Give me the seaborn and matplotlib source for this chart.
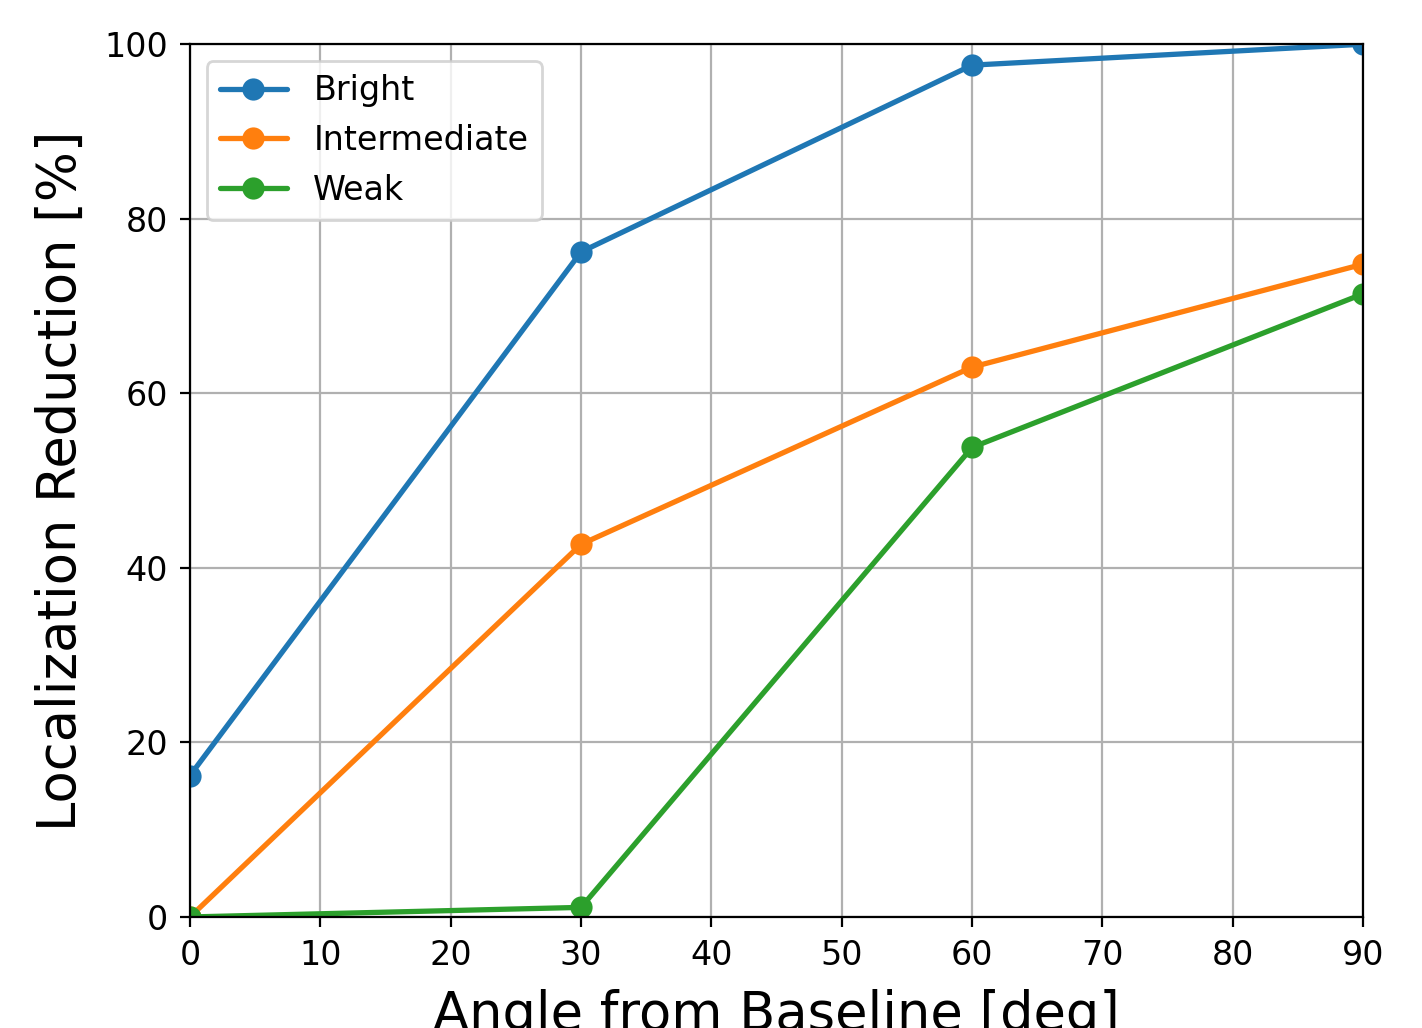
import pandas as pd
import matplotlib
matplotlib.use("Agg")
import matplotlib.pyplot as plt
import seaborn as sns

# --- data ---
angles = [0, 30, 60, 90]
bright = [16.2, 76.2, 97.6, 100.0]
intermediate = [0.0, 42.7, 63.0, 74.8]
weak = [0.0, 1.1, 53.8, 71.4]
series_names = ["Bright", "Intermediate", "Weak"]

df = pd.DataFrame({
    "angle": angles * 3,
    "value": bright + intermediate + weak,
    "series": [n for n in series_names for _ in angles],
})

sns.set_style("ticks")
plt.rcParams["font.family"] = ["DejaVu Sans"]
plt.rcParams["text.color"] = "black"
plt.rcParams["axes.labelcolor"] = "black"

fig = plt.figure(figsize=(7.11, 5.14), dpi=200)
ax = fig.add_axes([0.1336, 0.108, 0.825, 0.849])

palette = ["#1f77b4", "#ff7f0e", "#2ca02c"]
sns.lineplot(data=df, x="angle", y="value", hue="series", palette=palette,
             marker="o", markersize=8, markeredgewidth=0, linewidth=1.9,
             ax=ax)

ax.set_xlim(0, 90)
ax.set_ylim(0, 100)
ax.set_xticks(range(0, 91, 10))
ax.set_yticks(range(0, 101, 20))
ax.tick_params(labelsize=12, direction="out", length=3.5, width=0.8,
               colors="black", pad=4.5)
ax.grid(True, color="#b0b0b0", linewidth=0.8)
for s in ax.spines.values():
    s.set_visible(True)
    s.set_color("black")
    s.set_linewidth(0.8)

# the reference has the x label running off the bottom edge
ax.set_xlabel("Angle from Baseline [deg]", fontsize=19, labelpad=6)
ax.set_ylabel("Localization Reduction [%]", fontsize=19, labelpad=6)

leg = ax.legend(title=None, fontsize=12, loc="upper left", frameon=True,
                handlelength=2.0, handletextpad=0.8)
leg.get_frame().set_edgecolor("#cccccc")
for t in leg.get_texts():
    t.set_color("black")

fig.savefig("out.png", dpi=200)
